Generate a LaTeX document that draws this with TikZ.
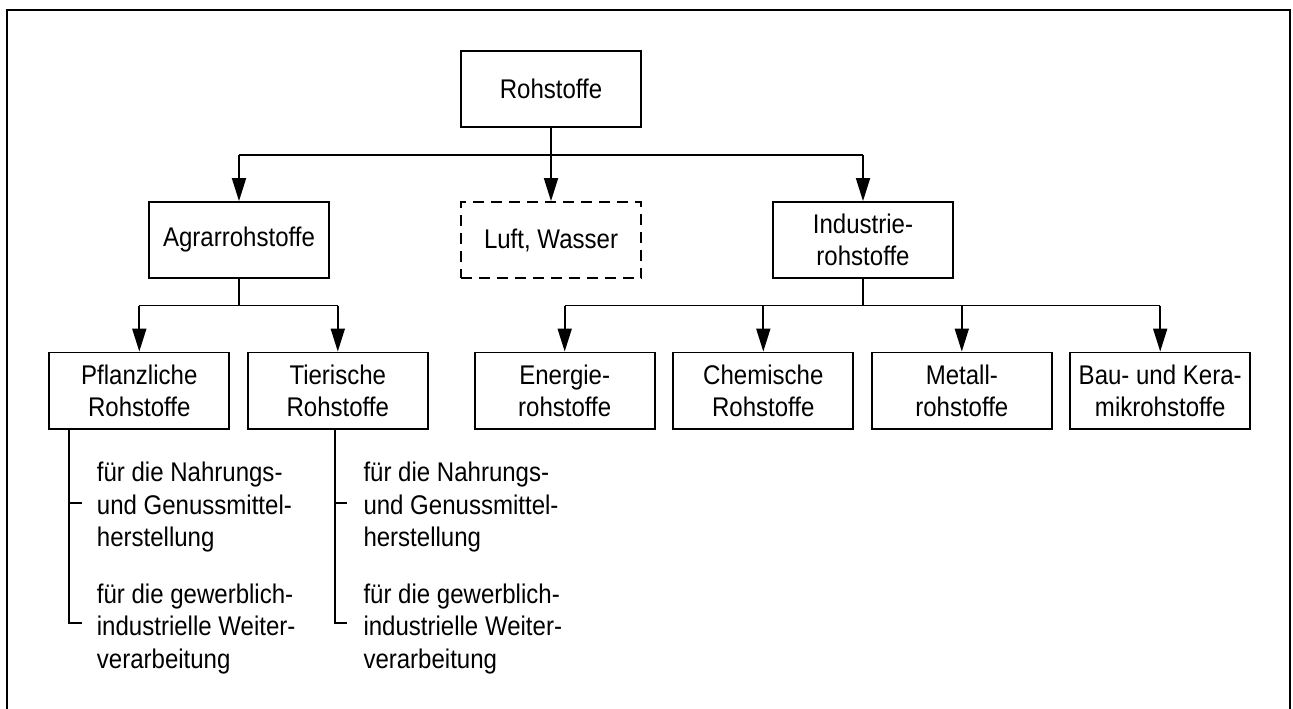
\documentclass[tikz,border=0pt]{standalone}
\usepackage{fontspec}
\setmainfont[FakeStretch=0.89]{Liberation Sans}
\usetikzlibrary{arrows.meta}
\begin{document}
\begin{tikzpicture}[x=1pt,y=-1pt,
  txt/.style={font=\fontsize{27}{32.5}\selectfont},
  line/.style={draw, line width=1.8pt},
  box/.style={line, txt, minimum width=180.5pt, minimum height=76pt,
    inner sep=0pt, align=center},
  subbox/.style={box, minimum width=180pt, minimum height=76.5pt},
  dashbox/.style={box, dash pattern=on 11pt off 7pt},
  arr/.style={line, -{Triangle[length=23pt,width=14pt]}},
  note/.style={txt, anchor=base west, inner sep=0pt}]

\useasboundingbox (0,0) rectangle (1293,709);

% outer frame, open at the bottom edge of the page
\draw[line] (7,715) -- (7,10) -- (1290,10) -- (1290,715);

% boxes
\node[box] (root) at (551,89) {Rohstoffe};
\node[box] (agrar) at (239,240) {Agrarrohstoffe};
\node[dashbox] (luft) at (551,240) {Luft, Wasser};
\node[box] (indus) at (863,240) {Industrie-\\rohstoffe};

\node[subbox] (pfl) at (139.3,390.7) {Pflanzliche\\Rohstoffe};
\node[subbox] (tier) at (337.8,390.7) {Tierische\\Rohstoffe};
\node[subbox] (energie) at (564.7,390.7) {Energie-\\rohstoffe};
\node[subbox] (chem) at (763.3,390.7) {Chemische\\Rohstoffe};
\node[subbox] (metall) at (961.8,390.7) {Metall-\\rohstoffe};
\node[subbox] (bau) at (1160.2,390.7) {Bau- und Kera-\\mikrohstoffe};

% first level
\coordinate (bus1) at (551,155);
\draw[line] (agrar.north |- bus1) -- (indus.north |- bus1);
\draw[arr] (root.south) -- (luft.north);
\draw[arr] (agrar.north |- bus1) -- (agrar.north);
\draw[arr] (indus.north |- bus1) -- (indus.north);

% Agrarrohstoffe branch
\coordinate (bus2) at (239,305.5);
\draw[line] (agrar.south) -- (bus2);
\draw[line] (pfl.north |- bus2) -- (tier.north |- bus2);
\draw[arr] (pfl.north |- bus2) -- (pfl.north);
\draw[arr] (tier.north |- bus2) -- (tier.north);

% Industrierohstoffe branch
\coordinate (bus3) at (863,305.5);
\draw[line] (indus.south) -- (bus3);
\draw[line] (energie.north |- bus3) -- (bau.north |- bus3);
\draw[arr] (energie.north |- bus3) -- (energie.north);
\draw[arr] (chem.north |- bus3) -- (chem.north);
\draw[arr] (metall.north |- bus3) -- (metall.north);
\draw[arr] (bau.north |- bus3) -- (bau.north);

% uses of plant raw materials
\coordinate (pa) at (69,502.7);
\coordinate (pb) at (69,623.3);
\draw[line] (pfl.south -| pa) -- (pb) -- ++(12.7,0);
\draw[line] (pa) -- ++(12.7,0);
\node[note] (pn1) at (96.7,481.7) {\begin{tabular}[t]{@{}l@{}}für die Nahrungs-\\und Genussmittel-\\herstellung\end{tabular}};
\node[note] (pn2) at (96.7,603) {\begin{tabular}[t]{@{}l@{}}für die gewerblich-\\industrielle Weiter-\\verarbeitung\end{tabular}};

% uses of animal raw materials
\coordinate (ta) at (335,502.7);
\coordinate (tb) at (335,623.3);
\draw[line] (tier.south -| ta) -- (tb) -- ++(11.7,0);
\draw[line] (ta) -- ++(11.7,0);
\node[note] (tn1) at (363.3,481.7) {\begin{tabular}[t]{@{}l@{}}für die Nahrungs-\\und Genussmittel-\\herstellung\end{tabular}};
\node[note] (tn2) at (363.3,603) {\begin{tabular}[t]{@{}l@{}}für die gewerblich-\\industrielle Weiter-\\verarbeitung\end{tabular}};
\end{tikzpicture}
\end{document}
